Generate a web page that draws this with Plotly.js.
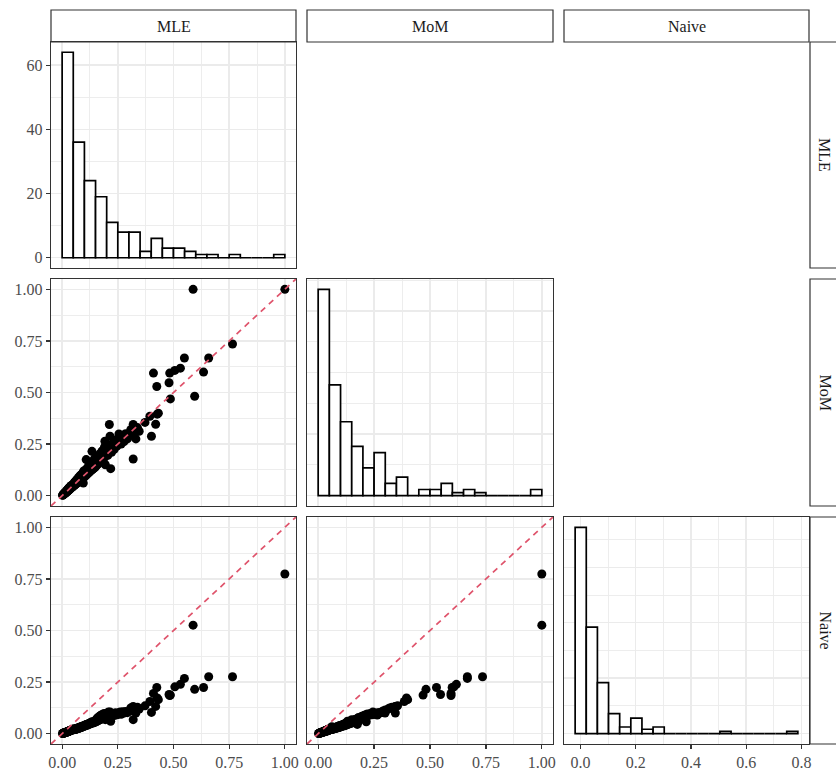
<!DOCTYPE html>
<html><head><meta charset="utf-8">
<script src="https://cdn.plot.ly/plotly-3.0.1.min.js"></script>
<style>html,body{margin:0;padding:0;background:#fff;}#chart{width:836px;height:770px;}</style>
</head><body><div id="chart"></div>
<script>
const methods = ['MLE', 'MoM', 'Naive'];

// per-simulation estimates
const mle = [
 0.002,0.004,0.005,0.007,0.008,0.010,0.011,0.012,0.013,0.014,0.015,0.016,0.017,0.018,0.019,0.020,0.021,0.022,0.022,0.023,0.024,0.025,0.026,0.026,0.027,0.028,0.029,0.030,0.030,0.031,0.032,0.033,0.033,0.034,0.035,0.036,0.036,0.037,0.038,0.038,0.039,0.040,0.040,0.041,0.041,0.042,0.043,0.043,0.044,0.044,0.045,0.045,0.046,0.046,0.047,0.047,0.048,0.048,0.049,0.049,0.003,0.009,0.018,0.031,
 0.051,0.052,0.053,0.054,0.055,0.056,0.057,0.058,0.059,0.060,0.062,0.063,0.064,0.066,0.067,0.068,0.070,0.071,0.072,0.074,0.075,0.076,0.078,0.079,0.080,0.082,0.083,0.085,0.086,0.088,0.090,0.092,0.093,0.095,0.097,0.099,
 0.101,0.103,0.105,0.107,0.108,0.110,0.112,0.114,0.116,0.118,0.120,0.122,0.124,0.126,0.128,0.130,0.132,0.134,0.136,0.138,0.141,0.143,0.146,0.148,
 0.151,0.153,0.155,0.157,0.160,0.162,0.164,0.166,0.168,0.170,0.173,0.175,0.178,0.181,0.184,0.187,0.190,0.194,0.192,
 0.202,0.205,0.208,0.212,0.215,0.218,0.222,0.228,0.234,0.240,0.246,
 0.252,0.255,0.260,0.265,0.272,0.278,0.285,0.293,
 0.303,0.308,0.319,0.319,0.325,0.331,0.338,0.346,
 0.372,0.394,
 0.401,0.410,0.420,0.425,0.427,0.432,
 0.480,0.483,0.486,
 0.506,0.531,0.549,
 0.588,0.595,
 0.635,0.658,0.765,1.000
];
const mom = [
 0.002,0.005,0.004,0.008,0.007,0.011,0.010,0.014,0.012,0.016,0.013,0.018,0.015,0.021,0.017,0.023,0.019,0.025,0.020,0.027,0.022,0.029,0.024,0.031,0.025,0.033,0.026,0.035,0.028,0.037,0.029,0.038,0.031,0.040,0.032,0.042,0.034,0.044,0.035,0.046,0.037,0.048,0.038,0.049,0.039,0.047,0.040,0.045,0.041,0.047,0.042,0.049,0.043,0.048,0.044,0.049,0.045,0.046,0.047,0.048,0.003,0.009,0.016,0.030,
 0.055,0.048,0.060,0.050,0.063,0.052,0.066,0.054,0.068,0.056,0.072,0.058,0.075,0.060,0.078,0.062,0.081,0.065,0.085,0.068,0.088,0.070,0.092,0.073,0.095,0.075,0.098,0.078,0.102,0.081,0.106,0.084,0.110,0.061,0.120,0.090,
 0.118,0.094,0.125,0.099,0.175,0.130,0.104,0.135,0.108,0.140,0.112,0.145,0.116,0.150,0.120,0.160,0.124,0.215,0.165,0.129,0.170,0.134,0.180,0.138,
 0.170,0.145,0.185,0.150,0.190,0.155,0.178,0.160,0.200,0.165,0.205,0.170,0.215,0.175,0.220,0.180,0.235,0.150,0.264,
 0.230,0.195,0.245,0.345,0.288,0.131,0.210,0.255,0.225,0.270,0.240,
 0.265,0.299,0.285,0.250,0.290,0.262,0.300,0.275,
 0.290,0.320,0.345,0.178,0.300,0.275,0.330,0.312,
 0.355,0.385,
 0.288,0.594,0.346,0.529,0.395,0.400,
 0.547,0.594,0.469,
 0.607,0.618,0.667,
 1.000,0.482,
 0.599,0.667,0.735,1.000
];
const naive = [
 0.001,0.002,0.002,0.003,0.003,0.004,0.004,0.005,0.005,0.005,0.006,0.006,0.007,0.007,0.007,0.008,0.008,0.009,0.008,0.009,0.010,0.010,0.010,0.011,0.011,0.011,0.012,0.012,0.012,0.013,0.013,0.013,0.014,0.014,0.014,0.015,0.015,0.015,0.016,0.016,0.016,0.017,0.016,0.017,0.017,0.018,0.018,0.018,0.019,0.019,0.019,0.019,0.020,0.020,0.020,0.020,0.021,0.021,0.021,0.021,0.001,0.004,0.007,0.013,
 0.020,0.019,0.021,0.020,0.021,0.021,0.022,0.020,0.023,0.021,0.024,0.022,0.025,0.023,0.026,0.024,0.027,0.025,0.028,0.026,0.029,0.027,0.030,0.028,0.031,0.029,0.033,0.030,0.034,0.032,0.035,0.033,0.037,0.034,0.039,0.036,
 0.040,0.038,0.042,0.040,0.045,0.044,0.041,0.046,0.043,0.048,0.045,0.050,0.047,0.052,0.049,0.054,0.050,0.058,0.056,0.052,0.058,0.054,0.060,0.056,
 0.066,0.058,0.072,0.061,0.078,0.064,0.070,0.066,0.084,0.068,0.088,0.070,0.092,0.074,0.095,0.078,0.098,0.068,0.090,
 0.095,0.085,0.105,0.100,0.105,0.060,0.090,0.098,0.088,0.102,0.092,
 0.095,0.100,0.105,0.094,0.106,0.100,0.108,0.102,
 0.110,0.125,0.132,0.068,0.115,0.100,0.128,0.119,
 0.135,0.156,
 0.103,0.195,0.132,0.224,0.173,0.165,
 0.190,0.185,0.187,
 0.227,0.239,0.268,
 0.526,0.215,
 0.224,0.276,0.276,0.774
];

// histogram counts (diagonal panels)
const mleBinStart = 0, mleBinWidth = 0.05;
const mleCounts = [64,36,24,19,11,8,8,2,6,3,3,2,1,1,0,1,0,0,0,1];
const momBinStart = 0, momBinWidth = 0.05;
const momCounts = [67,36,24,16,9,14,4,6,0,2,2,4,1,2,1,0,0,0,0,2];
const naiveBinStart = -0.019, naiveBinWidth = 0.0403;
const naiveCounts = [93,48,23,9,3,7,2,3,0,0,0,0,0,1,0,0,0,0,0,1];

// ---------- layout geometry ----------
const W = 836, H = 770;
const colPx = [[51, 296], [307, 553], [564, 809]];
const rowPx = [[42, 268], [279, 506], [517, 744]];
const xd = c => [colPx[c][0] / W, colPx[c][1] / W];
const yd = r => [1 - rowPx[r][1] / H, 1 - rowPx[r][0] / H];

const SERIF = 'Liberation Serif';
const tickFont = {family: SERIF, size: 16, color: '#4D4D4D'};
const GRID = '#EBEBEB', BORDER = '#333333';

function axis(domain, range, dtick, minorDtick, anchor, extra) {
  return Object.assign({
    domain: domain, range: range, autorange: false, anchor: anchor,
    tick0: 0, dtick: dtick,
    showgrid: true, gridcolor: GRID, gridwidth: 1.5, zeroline: false,
    showline: true, mirror: true, linecolor: BORDER, linewidth: 1.2,
    ticks: '', showticklabels: false, tickfont: tickFont,
    minor: {tick0: 0, dtick: minorDtick, showgrid: true, gridcolor: GRID, gridwidth: 0.9, ticks: ''},
    fixedrange: true
  }, extra || {});
}
const withTicks = {ticks: 'outside', ticklen: 4, tickwidth: 1.2, tickcolor: BORDER, showticklabels: true};

const unitRange = [-0.05, 1.05];
const maxOf = a => Math.max.apply(null, a);
const countRange = counts => [-0.05 * maxOf(counts), 1.05 * maxOf(counts)];
const naiveHistRange = [naiveBinStart - naiveBinWidth, naiveBinStart + (naiveCounts.length + 1) * naiveBinWidth];

const layout = {
  width: W, height: H, margin: {l: 0, r: 0, t: 0, b: 0},
  paper_bgcolor: '#FFFFFF', plot_bgcolor: '#FFFFFF',
  showlegend: false, bargap: 0,
  xaxis:  axis(xd(0), unitRange, 0.25, 0.125, 'y'),
  yaxis:  axis(yd(0), countRange(mleCounts), 20, 10, 'x', withTicks),
  xaxis2: axis(xd(0), unitRange, 0.25, 0.125, 'y2'),
  yaxis2: axis(yd(1), unitRange, 0.25, 0.125, 'x2', Object.assign({tickformat: '.2f'}, withTicks)),
  xaxis3: axis(xd(1), unitRange, 0.25, 0.125, 'y3'),
  yaxis3: axis(yd(1), countRange(momCounts), 20, 10, 'x3'),
  xaxis4: axis(xd(0), unitRange, 0.25, 0.125, 'y4', Object.assign({tickformat: '.2f'}, withTicks)),
  yaxis4: axis(yd(2), unitRange, 0.25, 0.125, 'x4', Object.assign({tickformat: '.2f'}, withTicks)),
  xaxis5: axis(xd(1), unitRange, 0.25, 0.125, 'y5', Object.assign({tickformat: '.2f'}, withTicks)),
  yaxis5: axis(yd(2), unitRange, 0.25, 0.125, 'x5'),
  xaxis6: axis(xd(2), naiveHistRange, 0.2, 0.1, 'y6', Object.assign({tickformat: '.1f'}, withTicks)),
  yaxis6: axis(yd(2), countRange(naiveCounts), 25, 12.5, 'x6'),
  shapes: [], annotations: []
};

// strips
const stripFont = {family: SERIF, size: 16, color: '#1A1A1A'};
methods.forEach((m, i) => {
  layout.shapes.push({type: 'rect', xref: 'paper', yref: 'paper', layer: 'above',
    x0: colPx[i][0] / W, x1: colPx[i][1] / W, y0: 1 - 42 / H, y1: 1 - 10 / H,
    line: {color: BORDER, width: 1.2}, fillcolor: 'rgba(255,255,255,0)'});
  layout.annotations.push({xref: 'paper', yref: 'paper', x: (colPx[i][0] + colPx[i][1]) / 2 / W, y: 1 - 26 / H,
    text: m, showarrow: false, xanchor: 'center', yanchor: 'middle', font: stripFont});
  layout.shapes.push({type: 'rect', xref: 'paper', yref: 'paper', layer: 'above',
    x0: 810 / W, x1: 844 / W, y0: 1 - rowPx[i][1] / H, y1: 1 - rowPx[i][0] / H,
    line: {color: BORDER, width: 1.2}, fillcolor: 'rgba(255,255,255,0)'});
  layout.annotations.push({xref: 'paper', yref: 'paper', x: 825 / W, y: 1 - (rowPx[i][0] + rowPx[i][1]) / 2 / H,
    text: m, showarrow: false, textangle: 90, xanchor: 'center', yanchor: 'middle', font: stripFont});
});

// identity (y = x) dashed reference lines on the scatter panels
[['x2', 'y2'], ['x4', 'y4'], ['x5', 'y5']].forEach(([xr, yr]) => {
  layout.shapes.push({type: 'line', xref: xr, yref: yr, layer: 'above',
    x0: unitRange[0], y0: unitRange[0], x1: unitRange[1], y1: unitRange[1],
    line: {color: '#DF536B', width: 1.7, dash: '6px,5px'}});
});

function histTrace(counts, start, width, xa, ya) {
  return {type: 'bar', xaxis: xa, yaxis: ya,
    x: counts.map((c, i) => start + (i + 0.5) * width), y: counts, width: width,
    marker: {color: '#FFFFFF', line: {color: '#000000', width: 1.7}}, hoverinfo: 'skip'};
}
function scatterTrace(x, y, xa, ya) {
  return {type: 'scatter', mode: 'markers', xaxis: xa, yaxis: ya, x: x, y: y,
    marker: {color: '#000000', size: 9}, hoverinfo: 'skip', cliponaxis: true};
}

const data = [
  histTrace(mleCounts, mleBinStart, mleBinWidth, 'x', 'y'),
  scatterTrace(mle, mom, 'x2', 'y2'),
  histTrace(momCounts, momBinStart, momBinWidth, 'x3', 'y3'),
  scatterTrace(mle, naive, 'x4', 'y4'),
  scatterTrace(mom, naive, 'x5', 'y5'),
  histTrace(naiveCounts, naiveBinStart, naiveBinWidth, 'x6', 'y6')
];

Plotly.newPlot('chart', data, layout, {staticPlot: true, displayModeBar: false});
</script>
</body></html>
